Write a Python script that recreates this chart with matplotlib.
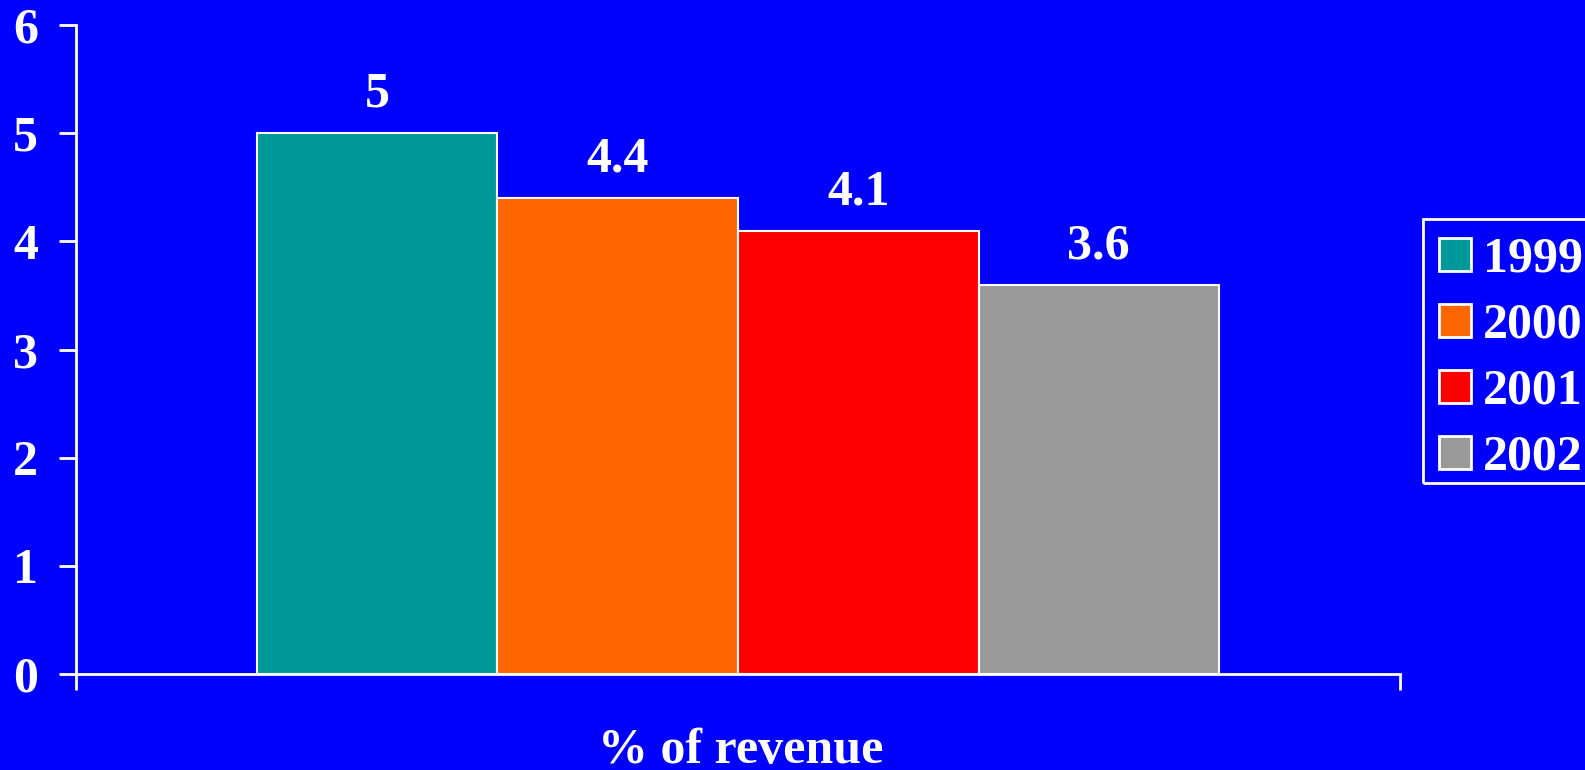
import matplotlib
matplotlib.use("Agg")
import matplotlib.pyplot as plt
from matplotlib.patches import Rectangle
import numpy as np

plt.rcParams["font.family"] = ["Liberation Serif", "DejaVu Serif"]
plt.rcParams["font.weight"] = "bold"

# --- Data ---
years = ["1999", "2000", "2001", "2002"]
values = [5, 4.4, 4.1, 3.6]
colors = ["#009999", "#FF6600", "#FF0000", "#999999"]
category = "% of revenue"
yticks = [0, 1, 2, 3, 4, 5, 6]

bg = "#0000FF"
fs = 36

fig = plt.figure(figsize=(15.85, 7.7), dpi=100, facecolor=bg)
W, H = 1585, 770
ax = fig.add_axes([76 / W, (H - 674) / H, 1324 / W, (674 - 25) / H])
ax.set_facecolor(bg)

# bars grouped around a single category at x=0
n = len(values)
group = 0.7266
bw = group / n
xs = -group / 2 + bw / 2 + np.arange(n) * bw
bars = ax.bar(xs, values, width=bw, color=colors, edgecolor="white", linewidth=1.5, label=years)
for rect, v in zip(bars, values):
    ax.annotate(f"{v:g}", (rect.get_x() + rect.get_width() / 2, v),
                xytext=(0, 19), textcoords="offset points",
                ha="center", va="baseline", color="white", fontsize=fs, fontweight="bold")

ax.set_xlim(-0.5, 0.5)
ax.set_ylim(0, 6)
ax.set_yticks(yticks)
ax.set_xticks([-0.5, 0.5])
ax.set_xticklabels([])
for s in ["top", "right"]:
    ax.spines[s].set_visible(False)
for s in ["left", "bottom"]:
    ax.spines[s].set_color("white")
    ax.spines[s].set_linewidth(2)
ax.tick_params(axis="y", direction="out", length=12.5, width=2, color="white",
               labelcolor="white", labelsize=fs, pad=15)
ax.tick_params(axis="x", direction="out", length=11.5, width=2, color="white")
for lbl in ax.get_yticklabels():
    lbl.set_fontweight("bold")

fig.text(741 / W, 1 - 763 / H, category, ha="center", va="baseline",
         color="white", fontsize=fs, fontweight="bold")

# legend entries without frame, box drawn separately
leg = fig.legend(handles=list(bars), labels=years, loc="center left",
                 bbox_to_anchor=(1439 / W, 1 - 359 / H), bbox_transform=fig.transFigure,
                 borderaxespad=0, borderpad=0, frameon=False, fontsize=fs,
                 handlelength=0.64, handleheight=0.64, handletextpad=0.24,
                 labelspacing=0.40)
for t in leg.get_texts():
    t.set_color("white")
    t.set_fontweight("bold")
for h in leg.legend_handles:
    h.set_edgecolor("white")
    h.set_linewidth(2)

fig.patches.append(Rectangle((1423 / W, 1 - 483 / H), 200 / W, 264 / H,
                             transform=fig.transFigure, facecolor="none",
                             edgecolor="white", linewidth=2))

fig.savefig("out.png", dpi=100, facecolor=bg)
